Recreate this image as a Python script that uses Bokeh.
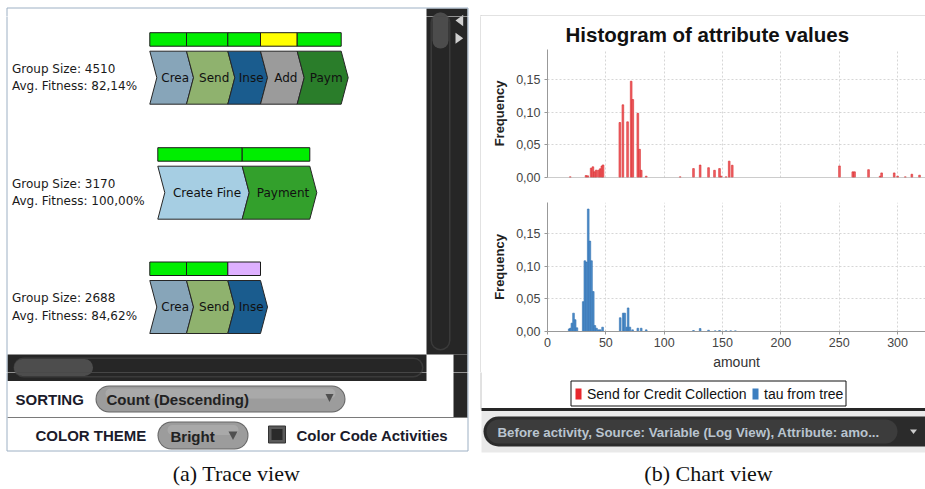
from bokeh.plotting import figure
from bokeh.layouts import row, column
from bokeh.models import Range1d, FixedTicker, CustomJSTickFormatter, Span
from bokeh.core.properties import value
from bokeh.embed import file_html
from bokeh.resources import INLINE

# ------------------------------------------------------------------ data
trace_labels = [["Crea", "Send", "Inse", "Add", "Paym"],
                ["Create Fine", "Payment"],
                ["Crea", "Send", "Inse"]]
trace_colors = [["#87a5b9", "#8fb26e", "#1a5c8e", "#9b9b9b", "#2a7d2a"],
                ["#a6cee3", "#33a02c"],
                ["#87a5b9", "#8fb26e", "#1a5c8e"]]
fitness_colors = [["#00ee00", "#00ee00", "#00ee00", "#ffff00", "#00ee00"],
                  ["#00ee00", "#00ee00"],
                  ["#00ee00", "#00ee00", "#deb0ff"]]
group_sizes = [4510, 3170, 2688]
avg_fitness = [82.14, 100.00, 84.62]

red_amount = [19.5, 33.0, 34.5, 37.4, 38.9, 40.3, 41.7, 43.7, 45.2, 46.6, 47.6,
              62.0, 64.6, 68.6, 71.7, 73.1, 77.4, 78.9, 80.3, 84.6, 113.7,
              125.1, 130.8, 138.0, 143.1, 147.4, 148.8, 153.0, 155.7, 158.3,
              250.2, 261.6, 263.1, 275.1, 285.0, 286.3, 297.1, 300.0, 306.6,
              312.2, 318.8]
red_freq = [0.001, 0.003, 0.0025, 0.0143, 0.0163, 0.0087, 0.0112, 0.0112, 0.0133,
            0.0175, 0.0192, 0.084, 0.111, 0.085, 0.147, 0.119, 0.098, 0.043,
            0.011, 0.002, 0.001, 0.0136, 0.019, 0.015, 0.011, 0.0136, 0.002,
            0.001, 0.025, 0.0187, 0.0177, 0.0086, 0.0086, 0.012, 0.002, 0.007,
            0.007, 0.002, 0.001, 0.005, 0.0035]
blue_amount = [18.6, 19.7, 20.9, 22.3, 23.7, 25.2, 30.6, 32.0, 33.4, 34.9, 36.3,
               37.7, 39.2, 40.6, 42.0, 43.7, 45.2, 47.2, 62.3, 64.9, 66.2, 68.0,
               69.1, 70.6, 72.9, 77.4, 80.3, 84.6, 125.1, 130.8, 138.0, 143.7,
               147.4, 153.0, 157.0, 161.0]
blue_freq = [0.004, 0.005, 0.0127, 0.028, 0.018, 0.0056, 0.0456, 0.108, 0.106,
             0.187, 0.138, 0.108, 0.061, 0.009, 0.005, 0.0025, 0.0025, 0.0066,
             0.021, 0.028, 0.028, 0.0066, 0.036, 0.0066, 0.0025, 0.005, 0.005,
             0.0025, 0.0015, 0.0045, 0.002, 0.001, 0.0015, 0.001, 0.001, 0.001]
x_ticks = [0, 50, 100, 150, 200, 250, 300]
y_ticks = [0.0, 0.05, 0.10, 0.15]
legend_labels = ["Send for Credit Collection", "tau from tree"]
legend_colors = ["#e8272d", "#3d7fc0"]
series_colors = [("#f0646a", "#d82828"), ("#4f8fcc", "#2f6fae")]

# ------------------------------------------------------------------ layout constants (px)
chev_widths = [[36.7, 41.3, 32.7, 36.7, 44.0], [84.4, 67.6], [36.7, 41.3, 32.7]]
row_x0 = [149.3, 157.3, 149.3]
row_top = [50.7, 165.7, 280.0]
CH, DEPTH = 53.0, 7.0
PX_PER_UNIT = 1.167

UI_FONT = value("Liberation Sans")
DLG_FONT = value("DejaVu Sans")
SERIF = value("Liberation Serif")


def canvas(x0, x1, y0, y1):
    f = figure(width=x1 - x0, height=y1 - y0, x_range=Range1d(x0, x1), y_range=Range1d(y1, y0),
               toolbar_location=None, output_backend="svg", min_border=0)
    f.axis.visible = False
    f.grid.visible = False
    f.outline_line_color = None
    f.background_fill_color = "white"
    f.border_fill_color = "white"
    return f


def pill(f, x0, x1, y, h, colors):
    for i, c in enumerate(colors):
        f.segment(x0=[x0], y0=[y], x1=[x1], y1=[y], line_width=h - 2 * i,
                  line_color=c, line_cap="round")


def left_shapes(f):
    # dark scroll areas
    f.quad(left=[426, 453, 7], right=[467, 467, 426], top=[8, 354, 354],
           bottom=[354, 417, 380.5], fill_color="#262626", line_color=None)
    f.segment(x0=[440], y0=[22], x1=[440], y1=[340], line_width=20, line_color="#3a3a3a", line_cap="round")
    f.segment(x0=[440], y0=[22], x1=[440], y1=[340], line_width=17, line_color="#262626", line_cap="round")
    f.segment(x0=[440], y0=[20], x1=[440], y1=[40], line_width=16, line_color="#4c4c4c", line_cap="round")
    f.segment(x0=[23], y0=[367], x1=[413], y1=[367], line_width=20, line_color="#3a3a3a", line_cap="round")
    f.segment(x0=[23], y0=[367], x1=[413], y1=[367], line_width=17, line_color="#262626", line_cap="round")
    f.segment(x0=[22], y0=[367], x1=[84], y1=[367], line_width=17, line_color="#4d4d4d", line_cap="round")
    f.patches(xs=[[455, 462.7, 462.7], [455, 455, 462.7]],
              ys=[[20, 14.3, 25.7], [32.3, 43.3, 37.8]], fill_color="#d0d0d0", line_color=None)
    f.segment(x0=[7], y0=[417], x1=[467], y1=[417], line_color="#7a7a7a", line_width=1)
    # panel border
    f.quad(left=[6.5], right=[467.5], top=[7.5], bottom=[450.5], fill_color=None,
           line_color="#9db0c4", line_width=1)
    # right panel border
    f.segment(x0=[480.5, 480], y0=[15, 15.5], x1=[480.5, 925], y1=[409, 15.5],
              line_color="#c4c4c4", line_width=1)


# ================================================================== top strip
T = canvas(0, 925, 0, 16)
left_shapes(T)

# ================================================================== left middle: trace view
L = canvas(0, 481, 16, 372)
left_shapes(L)

cx, cy, cfill = [], [], []
bl, br, bt, bb, bfill = [], [], [], [], []
tx, ty, tt = [], [], []
gx, gy, gt = [], [], []
for r, labels in enumerate(trace_labels):
    x = row_x0[r]
    top = row_top[r]
    bot = top + CH
    mid = (top + bot) / 2
    for lab, w, c, fc in zip(labels, chev_widths[r], trace_colors[r], fitness_colors[r]):
        cx.append([x, x + w, x + w + DEPTH, x + w, x, x + DEPTH])
        cy.append([top, top, mid, bot, bot, mid])
        cfill.append(c)
        bl.append(x); br.append(x + w); bt.append(top - 18.5); bb.append(top - 5); bfill.append(fc)
        tx.append(x + w / 2 + DEPTH); ty.append(mid); tt.append(lab)
        x += w
    gx += [11.5, 11.5]
    gy += [mid - 9, mid + 8.5]
    gt += ["Group Size: %d" % group_sizes[r],
           "Avg. Fitness: " + ("%.2f" % avg_fitness[r]).replace(".", ",") + "%"]

L.quad(left=bl, right=br, top=bt, bottom=bb, fill_color=bfill, line_color="#1a1a1a", line_width=1)
L.patches(xs=cx, ys=cy, fill_color=cfill, line_color="#262626", line_width=1)
L.text(x=tx, y=ty, text=tt, text_font=DLG_FONT, text_font_size="12px", text_color="#111111",
       text_align="center", text_baseline="middle")
L.text(x=gx, y=gy, text=gt, text_font=DLG_FONT, text_font_size="12px", text_color="#1a1a1a",
       text_baseline="middle")


# ================================================================== right: histograms
def hist(height, top_border, bottom_border, xs, ys, colors, show_x):
    frame_w = 444 - 66
    h = figure(width=444, height=height, x_range=Range1d(0, frame_w / PX_PER_UNIT),
               y_range=Range1d(0, 0.05 * (height - top_border - bottom_border) / 33.0),
               toolbar_location=None, output_backend="svg",
               min_border_left=66, min_border_right=0,
               min_border_top=top_border, min_border_bottom=bottom_border)
    h.outline_line_color = None
    h.background_fill_color = "white"
    h.border_fill_color = "white"
    h.vbar(x=xs, top=ys, width=1.45, bottom=0, fill_color=colors[0], line_color=colors[1],
           line_width=0.6)
    yax = h.yaxis[0]
    yax.ticker = FixedTicker(ticks=y_ticks)
    yax.formatter = CustomJSTickFormatter(code="return tick.toFixed(2).replace('.', ',');")
    yax.axis_label = "Frequency"
    yax.axis_label_text_font = "Liberation Sans"
    yax.axis_label_text_font_style = "bold"
    yax.axis_label_text_font_size = "13px"
    yax.axis_label_text_color = "#222222"
    yax.axis_label_standoff = 6
    yax.major_label_text_font = "Liberation Sans"
    yax.major_label_text_font_size = "12.5px"
    yax.major_label_text_color = "#444444"
    yax.major_label_standoff = 4
    yax.axis_line_color = "#999999"
    yax.major_tick_line_color = "#999999"
    yax.major_tick_out = 3
    yax.major_tick_in = 0
    yax.minor_tick_out = 0
    yax.minor_tick_in = 0
    xax = h.xaxis[0]
    xax.ticker = FixedTicker(ticks=x_ticks)
    for g in (h.xgrid[0], h.ygrid[0]):
        g.grid_line_color = "#d6d6d6"
        g.grid_line_dash = "2 2"
        g.grid_line_width = 1
    h.xgrid[0].ticker = FixedTicker(ticks=x_ticks)
    h.ygrid[0].ticker = FixedTicker(ticks=y_ticks)
    if show_x:
        xax.axis_label = "amount"
        xax.axis_label_text_font = "Liberation Sans"
        xax.axis_label_text_font_style = "normal"
        xax.axis_label_text_font_size = "14px"
        xax.axis_label_text_color = "#333333"
        xax.axis_label_standoff = 4
        xax.major_label_text_font = "Liberation Sans"
        xax.major_label_text_font_size = "12.5px"
        xax.major_label_text_color = "#444444"
        xax.major_label_standoff = 3
        xax.axis_line_color = "#999999"
        xax.major_tick_line_color = "#999999"
        xax.major_tick_out = 3
        xax.major_tick_in = 0
        xax.minor_tick_out = 0
        xax.minor_tick_in = 0
    else:
        xax.visible = False
        h.add_layout(Span(location=0, dimension="width", line_color="#999999", line_width=1))
    return h


h1 = hist(174, 32, 13, red_amount, red_freq, series_colors[0], False)
h1.title.text = "Histogram of attribute values"
h1.title.align = "left"
h1.title.offset = 18
h1.title.standoff = 8
h1.title.text_font = "Liberation Sans"
h1.title.text_font_style = "bold"
h1.title.text_font_size = "20.5px"
h1.title.text_color = "#111111"

h2 = hist(182, 12, 40, blue_amount, blue_freq, series_colors[1], True)

# ================================================================== bottom strip
B = canvas(0, 925, 372, 489)
left_shapes(B)
# left panel controls
B.text(x=[15], y=[398.5], text=["SORTING"], text_font=UI_FONT, text_font_style="bold",
       text_font_size="15px", text_color="#1b1b2b", text_baseline="middle")
pill(B, 108.5, 331.5, 398.5, 27, ["#666666", "#9c9c9c"])
B.segment(x0=[110], y0=[393], x1=[330], y1=[393], line_width=10, line_color="#a9a9a9", line_cap="round")
B.text(x=[106], y=[399], text=["Count (Descending)"], text_font=UI_FONT, text_font_style="bold",
       text_font_size="15px", text_color="#222222", text_baseline="middle")
B.patch(x=[325, 333, 329], y=[393.5, 393.5, 401.5], fill_color="#505050", line_color=None)
B.text(x=[35], y=[434.5], text=["COLOR THEME"], text_font=UI_FONT, text_font_style="bold",
       text_font_size="15px", text_color="#1b1b2b", text_baseline="middle")
pill(B, 171, 234, 435, 28, ["#666666", "#9c9c9c"])
B.segment(x0=[172], y0=[429.5], x1=[233], y1=[429.5], line_width=10, line_color="#a9a9a9", line_cap="round")
B.text(x=[170], y=[435.5], text=["Bright"], text_font=UI_FONT, text_font_style="bold",
       text_font_size="15px", text_color="#222222", text_baseline="middle")
B.patch(x=[228, 237, 232.5], y=[431, 431, 439.5], fill_color="#505050", line_color=None)
B.quad(left=[268], right=[285], top=[425.5], bottom=[442.5], fill_color="#5a5a5a", line_color="#333333")
B.quad(left=[271], right=[282], top=[428.5], bottom=[439.5], fill_color="#2a2a2a", line_color=None)
B.text(x=[296], y=[434.5], text=["Color Code Activities"], text_font=UI_FONT, text_font_style="bold",
       text_font_size="15px", text_color="#1b1b2b", text_baseline="middle")
B.text(x=[236], y=[473], text=["(a) Trace view"], text_font=SERIF, text_font_size="22px",
       text_color="#111111", text_align="center", text_baseline="middle")

# chart view lower part
B.quad(left=[481], right=[925], top=[410], bottom=[452], fill_color="#e9e9e9", line_color=None)
B.quad(left=[481], right=[925], top=[407.5], bottom=[410.5], fill_color="#262626", line_color=None)
B.quad(left=[570.5], right=[845.5], top=[380.5], bottom=[405.5], fill_color="white",
       line_color="#111111", line_width=1)
leg_x = [575, 752]
B.quad(left=leg_x, right=[x + 6 for x in leg_x], top=[388, 388], bottom=[399, 399],
       fill_color=legend_colors, line_color=None)
B.text(x=[x + 11.5 for x in leg_x], y=[393.5, 393.5], text=legend_labels, text_font=UI_FONT,
       text_font_size="14px", text_color="#111111", text_baseline="middle")
pill(B, 498, 950, 431, 30, ["#2b2b2b"])
pill(B, 498, 885, 431, 24, ["#3c3c3c"])
B.text(x=[497], y=[431.5], text=["Before activity, Source: Variable (Log View), Attribute: amo..."],
       text_font=UI_FONT, text_font_style="bold", text_font_size="13.3px", text_color="#b9c4cf",
       text_baseline="middle")
B.patch(x=[909.5, 916.5, 913], y=[429, 429, 433.5], fill_color="#cccccc", line_color=None)
B.text(x=[708], y=[473], text=["(b) Chart view"], text_font=SERIF, text_font_size="22px",
       text_color="#111111", text_align="center", text_baseline="middle")

layout = column(T, row(L, column(h1, h2)), B)
open("out.html", "w").write(file_html(layout, INLINE))
